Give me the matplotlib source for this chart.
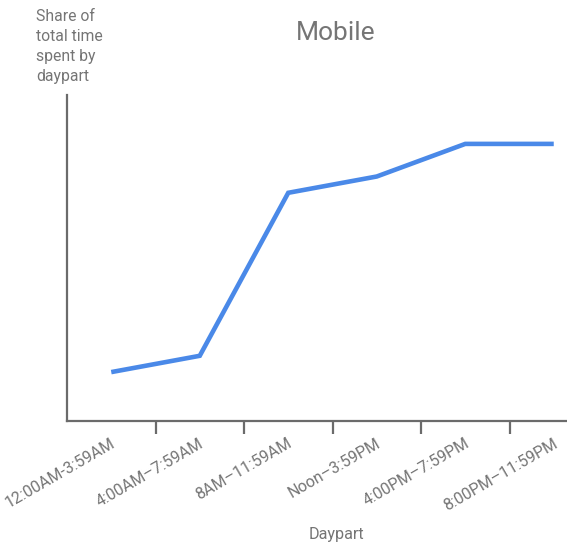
import matplotlib
matplotlib.use("Agg")
import matplotlib.pyplot as plt

plt.rcParams['font.family'] = ['Roboto', 'DejaVu Sans']

dayparts = ["12:00AM-3:59AM", "4:00AM\u20137:59AM", "8AM\u201311:59AM",
            "Noon\u20133:59PM", "4:00PM\u20137:59PM", "8:00PM\u201311:59PM"]
share = [15, 20, 70, 75, 85, 85]

W, H = 567, 542
fig = plt.figure(figsize=(W / 100, H / 100), dpi=100)
# band scale: one slot per daypart, right edge runs past the canvas
x0, x1, ytop, ybot = 67, 598, 95, 421
ax = fig.add_axes([x0 / W, 1 - ybot / H, (x1 - x0) / W, (ybot - ytop) / H])

text_col = "#757575"
axis_col = "#6b6b6b"

pos = list(range(len(dayparts)))
ax.plot(pos, share, color="#4a89e8", lw=3.3, solid_joinstyle="miter", solid_capstyle="butt")
ax.set_xlim(-0.5, len(dayparts) - 0.5)
ax.set_ylim(0, 100)

for s in ["top", "right"]:
    ax.spines[s].set_visible(False)
for s in ["left", "bottom"]:
    ax.spines[s].set_color(axis_col)
    ax.spines[s].set_linewidth(1.6)

ax.set_yticks([])
ax.set_xticks([p + 0.5 for p in pos[:-1]])
ax.set_xticklabels([])
ax.tick_params(axis="x", length=9, width=1.6, color=axis_col)

for p, lab in zip(pos, dayparts):
    ax.annotate(lab, xy=(p, 0), xycoords=("data", "axes fraction"),
                xytext=(-1, -15), textcoords="offset pixels",
                rotation=30, ha="right", va="top", rotation_mode="anchor",
                fontsize=11.5, color=text_col)

fig.text(336 / W, 1 - 33 / H, "Mobile", ha="center", va="center",
         fontsize=19, color=text_col)
fig.text(36 / W, 1 - 9 / H, "Share of\ntotal time\nspent by\ndaypart",
         ha="left", va="top", fontsize=11.3, color=text_col, linespacing=1.42)
fig.text(336 / W, 1 - 535 / H, "Daypart", ha="center", va="center",
         fontsize=11.6, color=text_col)

fig.savefig("out.png", dpi=100)
